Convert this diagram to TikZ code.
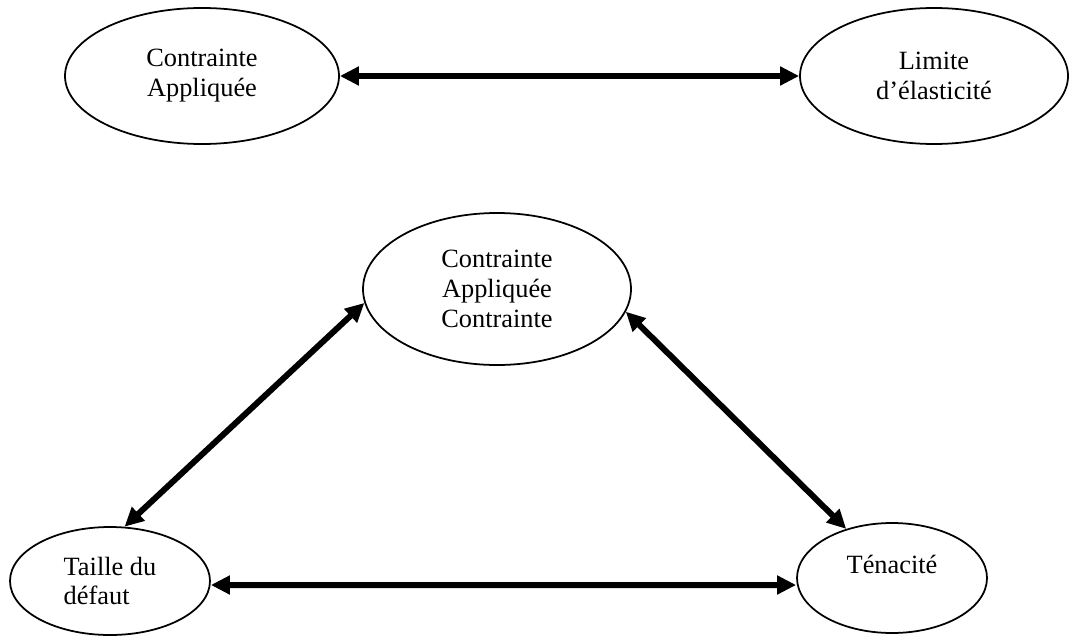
\documentclass[tikz,border=0pt]{standalone}
\usepackage{fontspec}
\setmainfont{Liberation Serif}
\usetikzlibrary{shapes.geometric,arrows.meta}

\tikzset{
  bulle/.style={ellipse, draw, line width=1pt, inner sep=0pt,
    font=\fontsize{15}{17}\selectfont},
  lien/.style={line width=0.12cm,
    {Triangle[length=3.8mm,width=3.6mm]}-{Triangle[length=3.8mm,width=3.6mm]}}
}

\begin{document}
\begin{tikzpicture}
    \useasboundingbox (0,0) rectangle (21.4,12.72);
    % haut : contrainte / limite d'elasticite
    \node[bulle, minimum width=5.48cm, minimum height=2.72cm, align=center] (ca) at (4.04,11.2) {Contrainte\\Appliquée};
    \node[bulle, minimum width=5.36cm, minimum height=2.72cm, align=center] (limite) at (18.68,11.2) {Limite\\d’élasticité};
    \draw[lien] (ca) -- (limite);

    % triangle du bas
    \node[bulle, minimum width=5.36cm, minimum height=3.04cm, align=center] (centre) at (9.94,6.94) {Contrainte\\Appliquée\\Contrainte};
    \node[bulle, minimum width=4cm, minimum height=2.16cm, align=left] (taille) at (2.2,1.1) {Taille du\\défaut};
    \node[bulle, minimum width=3.8cm, minimum height=2.2cm, text depth=0.55cm] (tenacite) at (17.84,1.16) {Ténacité};
    \draw[lien] (taille.75) -- (centre.186);
    \draw[lien] (tenacite.133) -- (centre.350);
    \draw[lien] ([yshift=-0.08cm]taille.east) -- ([yshift=-0.14cm]tenacite.west);
  \end{tikzpicture}
\end{document}
